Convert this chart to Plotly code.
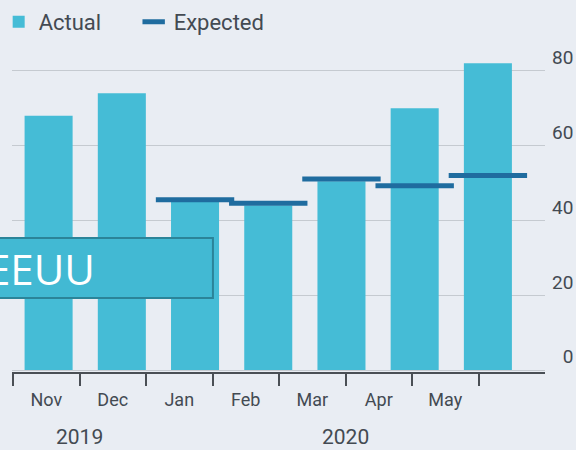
import plotly.graph_objects as go

months = ["Nov", "Dec", "Jan", "Feb", "Mar", "Apr", "May"]
actual = [68, 74, 45, 44, 50.5, 70, 82]
expected = [None, None, 45.5, 44.6, 51.1, 49.3, 52]
y_ticks = [0, 20, 40, 60, 80]
y_tick_text = ["\u20070", "20", "40", "60", "80"]
years = ["2019", "2020"]
year_pos = [0.5, 4.5]

BG = "#E9EDF3"
BAR = "#45BCD6"
EXP = "#1F6C9F"
TXT = "#434A52"
FONT = "Liberation Sans Narrow, Roboto, sans-serif"

fig = go.Figure()
fig.add_trace(go.Bar(x=months, y=actual, name="Actual", marker=dict(color=BAR, line=dict(width=0)),
                     xaxis="x", yaxis="y"))
fig.add_trace(go.Scatter(x=months, y=expected, name="Expected", mode="markers",
                         marker=dict(symbol="line-ew", size=56, line=dict(width=5, color=EXP), color=EXP),
                         xaxis="x", yaxis="y"))
fig.add_trace(go.Scatter(x=months, y=actual, mode="markers", marker=dict(opacity=0),
                         showlegend=False, hoverinfo="skip", xaxis="x2", yaxis="y"))

fig.update_layout(
    width=576, height=450,
    paper_bgcolor=BG, plot_bgcolor=BG,
    margin=dict(l=12, r=31, t=45, b=78, autoexpand=False),
    font=dict(family=FONT, color=TXT, size=18),
    bargap=0.344,
    showlegend=True,
    legend=dict(orientation="h", x=-0.025, y=1.135, xanchor="left", yanchor="top",
                font=dict(size=22, color=TXT), bgcolor="rgba(0,0,0,0)", itemwidth=30,
                entrywidth=90, tracegroupgap=0),
    xaxis=dict(type="category", categoryorder="array", categoryarray=months,
               range=[-0.5, 6.78], showticklabels=False, showgrid=False, zeroline=False,
               showline=False, ticks=""),
    xaxis2=dict(type="category", categoryorder="array", categoryarray=months,
                overlaying="x", anchor="y", side="bottom",
                range=[-0.515, 7.5], tickson="boundaries", ticks="outside", ticklen=12,
                tickwidth=2, tickcolor="#4a4f55", showline=True, linewidth=2, linecolor="#4a4f55",
                showgrid=False, zeroline=False, ticklabelstandoff=10,
                tickfont=dict(size=18, color=TXT)),
    yaxis=dict(side="right", range=[-0.53, 86.9], tickvals=y_ticks, ticktext=y_tick_text,
               ticklabelposition="outside top", ticks="", showgrid=True, gridcolor="#C5CAD0",
               gridwidth=1, zeroline=False, showline=False, ticklabelstandoff=6,
               tickfont=dict(size=19, color=TXT)),
)

for yr, pos in zip(years, year_pos):
    fig.add_annotation(x=pos, y=-0.2, xref="x2", yref="paper", text=yr, showarrow=False,
                       font=dict(size=21, color=TXT), xanchor="center", yanchor="middle")

fig.add_shape(type="rect", xref="paper", yref="paper", x0=-0.03, x1=0.377, y0=0.226, y1=0.41,
              fillcolor="#42B9D3", line=dict(color="#2B8499", width=2), layer="above")
fig.add_annotation(x=-0.05, y=0.318, xref="paper", yref="paper", text="EEUU", showarrow=False,
                   xanchor="left", yanchor="middle",
                   font=dict(size=42, color="white", family="Open Sans, sans-serif"))

fig.write_html("out.html", config={"displayModeBar": False},
               post_script="document.body.style.margin='0';document.body.style.background='%s';" % BG)
